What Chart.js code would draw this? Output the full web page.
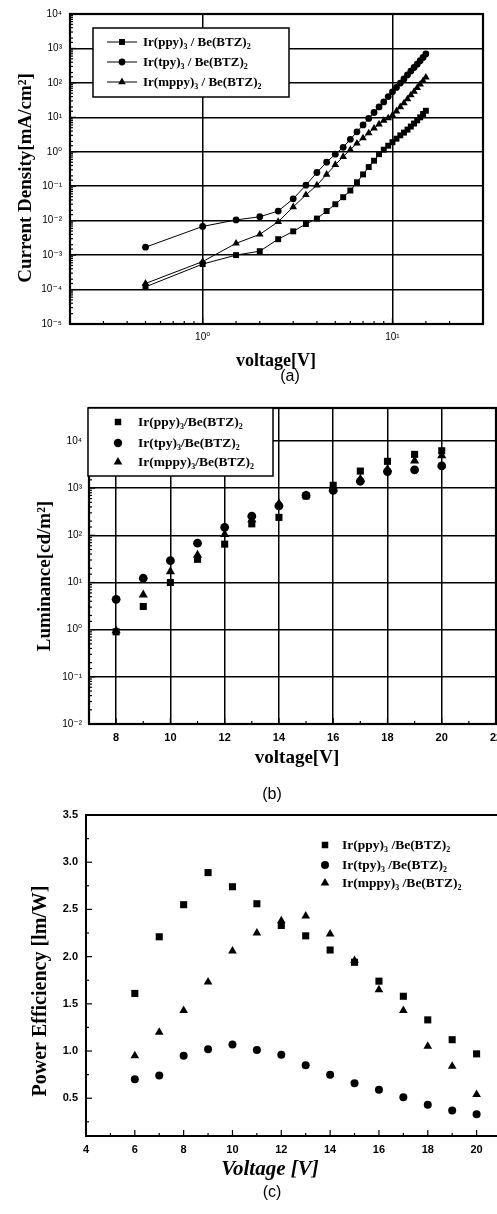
<!DOCTYPE html>
<html>
<head>
<meta charset="utf-8">
<script src="https://cdn.jsdelivr.net/npm/chart.js@4.4.1/dist/chart.umd.min.js"></script>
<style>
  html, body { margin: 0; padding: 0; background: #fff; }
  body { width: 497px; height: 1214px; overflow: hidden; position: relative; }
  canvas { position: absolute; left: 0; }
  #ca { top: 0; }
  #cb { top: 390px; }
  #cc { top: 800px; }
</style>
</head>
<body>
<canvas id="ca" width="510" height="390"></canvas>
<canvas id="cb" width="510" height="420"></canvas>
<canvas id="cc" width="510" height="414"></canvas>
<script>
// ---- (a) current density vs voltage ----
const voltageA = [0.5, 1, 1.5, 2, 2.5, 3, 3.5, 4, 4.5, 5, 5.5, 6, 6.5, 7, 7.5, 8, 8.5, 9, 9.5, 10, 10.5, 11, 11.5, 12, 12.5, 13, 13.5, 14, 14.5, 15]
const jPpyA = [1.2e-4, 5.5e-4, 1.0e-3, 1.3e-3, 2.9e-3, 4.9e-3, 8e-3, 0.0115, 0.019, 0.03, 0.048, 0.075, 0.13, 0.22, 0.36, 0.55, 0.85, 1.15, 1.5, 1.9, 2.4, 3.0, 3.6, 4.4, 5.4, 6.6, 8.2, 10, 12.5, 15.5]
const jTpyA = [1.7e-3, 6.8e-3, 1.05e-2, 1.3e-2, 1.9e-2, 4.3e-2, 0.107, 0.25, 0.5, 0.85, 1.35, 2.3, 3.8, 6.0, 9.3, 13.8, 20, 28, 40, 55, 74, 99, 130, 170, 220, 280, 350, 440, 550, 690]
const jMppyA = [1.5e-4, 6.5e-4, 2.2e-3, 4e-3, 9.3e-3, 0.025, 0.056, 0.107, 0.22, 0.42, 0.72, 1.15, 1.75, 2.5, 3.5, 4.8, 6.3, 8, 9.5, 11.5, 15, 20, 26, 34, 44, 56, 72, 91, 115, 145]
const seriesNamesA = ["Ir(ppy)₃ / Be(BTZ)₂", "Ir(tpy)₃ / Be(BTZ)₂", "Ir(mppy)₃ / Be(BTZ)₂"]
const xDecadesA = [0, 1]
const yDecadesA = [-5, -4, -3, -2, -1, 0, 1, 2, 3, 4]

// ---- (b) luminance vs voltage ----
const voltageB = [8, 9, 10, 11, 12, 13, 14, 15, 16, 17, 18, 19, 20]
const lumPpyB = [0.9, 3.1, 10, 31, 65, 175, 240, 680, 1150, 2300, 3700, 5200, 6200]
const lumTpyB = [4.4, 12.3, 29, 68, 148, 255, 420, 700, 900, 1400, 2250, 2450, 2950]
const lumMppyB = [0.95, 5.5, 17, 38, 105, 215, 470, 700, 950, 1550, 2500, 3800, 4900]
const seriesNamesB = ["Ir(ppy)₃/Be(BTZ)₂", "Ir(tpy)₃/Be(BTZ)₂", "Ir(mppy)₃/Be(BTZ)₂"]
const xTicksB = [8, 10, 12, 14, 16, 18, 20, 22]
const yDecadesB = [-2, -1, 0, 1, 2, 3, 4]

// ---- (c) power efficiency vs voltage ----
const voltageC = [6, 7, 8, 9, 10, 11, 12, 13, 14, 15, 16, 17, 18, 19, 20]
const pePpyC = [1.61, 2.21, 2.55, 2.89, 2.74, 2.56, 2.33, 2.22, 2.07, 1.94, 1.74, 1.58, 1.33, 1.12, 0.97]
const peTpyC = [0.70, 0.74, 0.95, 1.02, 1.07, 1.01, 0.96, 0.85, 0.75, 0.66, 0.59, 0.51, 0.43, 0.37, 0.33]
const peMppyC = [0.95, 1.20, 1.43, 1.73, 2.06, 2.25, 2.38, 2.43, 2.24, 1.96, 1.65, 1.43, 1.05, 0.84, 0.54]
const seriesNamesC = ["Ir(ppy)₃ /Be(BTZ)₂", "Ir(tpy)₃ /Be(BTZ)₂", "Ir(mppy)₃ /Be(BTZ)₂"]
const xTicksC = [4, 6, 8, 10, 12, 14, 16, 18, 20]
const yTicksC = [0.5, 1.0, 1.5, 2.0, 2.5, 3.0, 3.5]

const markers = ["rect", "circle", "triangle"]
const serif = "'Liberation Serif', 'DejaVu Serif', serif"
const sans = "'Liberation Sans', 'DejaVu Sans', sans-serif"
const subDigits = "₀₁₂₃₄₅₆₇₈₉"
const supChars = { "-": "⁻", 0: "⁰", 1: "¹", 2: "²", 3: "³", 4: "⁴", 5: "⁵", 6: "⁶", 7: "⁷", 8: "⁸", 9: "⁹" }

const sup = (n) => String(n).split("").map((c) => supChars[c]).join("")

// label only the decades listed
const decadeLabel = (decades) => (v) => {
  const e = Math.log10(v)
  const r = Math.round(e)
  return Math.abs(e - r) < 1e-6 && decades.includes(r) ? "10" + sup(r) : ""
}
const listLabel = (list, digits) => (v) => {
  const n = Number(Number(v).toFixed(2))
  return list.includes(n) ? n.toFixed(digits) : ""
}
const gridOnLabel = (c) => (c.tick && c.tick.label ? "#000" : "rgba(0,0,0,0)")

// filled marker, same geometry as chart.js point styles
function marker(ctx, style, r, x, y) {
  ctx.beginPath()
  if (style === "rect") {
    const s = Math.SQRT1_2 * r
    ctx.rect(x - s, y - s, 2 * s, 2 * s)
  } else if (style === "triangle") {
    for (let k = 0; k < 3; k++) {
      const a = (k * 2 * Math.PI) / 3
      const px = x + Math.sin(a) * r
      const py = y - Math.cos(a) * r
      k === 0 ? ctx.moveTo(px, py) : ctx.lineTo(px, py)
    }
    ctx.closePath()
  } else {
    ctx.arc(x, y, r, 0, 2 * Math.PI)
  }
  ctx.fill()
}

// text with unicode subscript digits drawn as small lowered digits
function drawRich(ctx, text, x, y, size) {
  let cx = x
  text.match(/[₀-₉]+|[^₀-₉]+/g).forEach((p) => {
    const sub = subDigits.includes(p[0])
    const s = sub ? p.split("").map((c) => subDigits.indexOf(c)).join("") : p
    ctx.font = `bold ${sub ? Math.round(size * 0.62) : size}px ${serif}`
    ctx.fillText(s, cx, sub ? y + size * 0.22 : y)
    cx += ctx.measureText(s).width
  })
}

// frame, inward ticks, legend and captions
const makeDeco = (cfg) => ({
  id: "deco",
  afterDraw(chart) {
    const { ctx, chartArea: a } = chart
    ctx.save()
    ctx.strokeStyle = "#000"
    ctx.fillStyle = "#000"

    ctx.lineWidth = 1.2
    const xs = chart.scales.x
    xs.ticks.forEach((t) => {
      const px = xs.getPixelForValue(t.value)
      if (px < a.left + 1 || px > a.right - 1) return
      const len = t.label ? cfg.majorLen : cfg.minorLen
      ctx.beginPath()
      ctx.moveTo(px, a.bottom)
      ctx.lineTo(px, a.bottom - len)
      ctx.stroke()
    })
    const ys = chart.scales.y
    ys.ticks.forEach((t) => {
      const py = ys.getPixelForValue(t.value)
      if (py < a.top + 1 || py > a.bottom - 1) return
      const len = t.label ? cfg.majorLen : cfg.minorLen
      ctx.beginPath()
      ctx.moveTo(a.left, py)
      ctx.lineTo(a.left + len, py)
      ctx.stroke()
    })

    ctx.lineWidth = cfg.frameWidth
    ctx.strokeRect(a.left, a.top, a.right - a.left, a.bottom - a.top)

    const lg = cfg.legend
    if (lg.box) {
      const [x0, y0, x1, y1] = lg.box
      ctx.fillStyle = "#fff"
      ctx.fillRect(x0, y0, x1 - x0, y1 - y0)
      ctx.lineWidth = 1.5
      ctx.strokeRect(x0, y0, x1 - x0, y1 - y0)
      ctx.fillStyle = "#000"
    }
    chart.data.datasets.forEach((ds, i) => {
      const y = lg.rows[i]
      if (lg.line) {
        ctx.lineWidth = 1
        ctx.beginPath()
        ctx.moveTo(lg.line[0], y)
        ctx.lineTo(lg.line[1], y)
        ctx.stroke()
      }
      marker(ctx, ds.pointStyle, lg.radius[i], lg.markerX, y)
      ctx.textAlign = "left"
      ctx.textBaseline = "alphabetic"
      drawRich(ctx, ds.label, lg.textX, y + lg.size * 0.33, lg.size)
    })

    cfg.titles.forEach((t) => {
      ctx.save()
      ctx.translate(t.x, t.y)
      if (t.rot) ctx.rotate(-Math.PI / 2)
      ctx.font = t.font
      ctx.textAlign = "center"
      ctx.textBaseline = "middle"
      ctx.fillText(t.text, 0, 0)
      ctx.restore()
    })
    ctx.restore()
  },
})

const mkSet = (xs, ys, i, names, radius, showLine) => ({
  label: names[i],
  data: xs.map((v, k) => ({ x: v, y: ys[k] })),
  showLine: showLine,
  borderColor: "#000",
  backgroundColor: "#000",
  borderWidth: 1,
  tension: 0,
  pointStyle: markers[i],
  pointRadius: radius[i],
  pointBorderWidth: 0,
  pointBackgroundColor: "#000",
})

const baseOptions = (padTop, padRight) => ({
  responsive: false,
  animation: false,
  devicePixelRatio: 1,
  layout: { padding: { top: padTop, right: padRight, left: 0, bottom: 0 } },
  plugins: { legend: { display: false }, tooltip: { enabled: false } },
})

// (a)
const radiusA = [4.2, 3.4, 4.4]
new Chart(document.getElementById("ca"), {
  type: "line",
  data: {
    datasets: [
      mkSet(voltageA, jPpyA, 0, seriesNamesA, radiusA, true),
      mkSet(voltageA, jTpyA, 1, seriesNamesA, radiusA, true),
      mkSet(voltageA, jMppyA, 2, seriesNamesA, radiusA, true),
    ],
  },
  options: {
    ...baseOptions(7, 27),
    scales: {
      x: {
        type: "logarithmic", min: 0.2, max: 30,
        afterFit: (s) => { s.height = 390 - 324 },
        border: { display: false },
        grid: { color: gridOnLabel, lineWidth: 1.5, drawTicks: false },
        ticks: { autoSkip: false, maxRotation: 0, padding: 7, color: "#000", font: { family: sans, size: 10 }, callback: decadeLabel(xDecadesA) },
      },
      y: {
        type: "logarithmic", min: 1e-5, max: 1e4,
        afterFit: (s) => { s.width = 70 },
        border: { display: false },
        grid: { color: gridOnLabel, lineWidth: 1.5, drawTicks: false },
        ticks: { autoSkip: false, padding: 8, color: "#000", font: { family: sans, size: 10 }, callback: decadeLabel(yDecadesA) },
      },
    },
  },
  plugins: [makeDeco({
    frameWidth: 2.2, majorLen: 6, minorLen: 3,
    legend: { box: [93, 28, 289, 97], rows: [42, 62, 82], line: [107, 137], markerX: 122, radius: [4.2, 3.4, 4.4], textX: 143, size: 13 },
    titles: [
      { text: "Current Density[mA/cm²]", x: 26, y: 178, rot: true, font: `bold 19px ${serif}` },
      { text: "voltage[V]", x: 276, y: 361, font: `bold 18px ${serif}` },
      { text: "(a)", x: 290, y: 377, font: `16px ${sans}` },
    ],
  })],
})

// (b)
const radiusB = [5, 4.4, 5.3]
new Chart(document.getElementById("cb"), {
  type: "scatter",
  data: {
    datasets: [
      mkSet(voltageB, lumPpyB, 0, seriesNamesB, radiusB, false),
      mkSet(voltageB, lumTpyB, 1, seriesNamesB, radiusB, false),
      mkSet(voltageB, lumMppyB, 2, seriesNamesB, radiusB, false),
    ],
  },
  options: {
    ...baseOptions(18, 14),
    scales: {
      x: {
        type: "linear", min: 7, max: 22,
        afterFit: (s) => { s.height = 420 - 334 },
        border: { display: false },
        grid: { color: gridOnLabel, lineWidth: 1.5, drawTicks: false },
        ticks: { stepSize: 1, autoSkip: false, maxRotation: 0, padding: 7, color: "#000", font: { family: sans, size: 11, weight: "bold" }, callback: listLabel(xTicksB, 0) },
      },
      y: {
        type: "logarithmic", min: 0.01, max: 5e4,
        afterFit: (s) => { s.width = 89 },
        border: { display: false },
        grid: { color: gridOnLabel, lineWidth: 1.5, drawTicks: false },
        ticks: { autoSkip: false, padding: 7, color: "#000", font: { family: sans, size: 10 }, callback: decadeLabel(yDecadesB) },
      },
    },
  },
  plugins: [makeDeco({
    frameWidth: 2.2, majorLen: 6, minorLen: 3,
    legend: { box: [88, 18, 273, 86], rows: [32, 53, 72], markerX: 118, radius: [4.6, 4.2, 5], textX: 138, size: 13.5 },
    titles: [
      { text: "Luminance[cd/m²]", x: 45, y: 186, rot: true, font: `bold 19px ${serif}` },
      { text: "voltage[V]", x: 297, y: 368, font: `bold 19px ${serif}` },
      { text: "(b)", x: 272, y: 405, font: `16px ${sans}` },
    ],
  })],
})

// (c)
const radiusC = [5, 4, 5]
new Chart(document.getElementById("cc"), {
  type: "scatter",
  data: {
    datasets: [
      mkSet(voltageC, pePpyC, 0, seriesNamesC, radiusC, false),
      mkSet(voltageC, peTpyC, 1, seriesNamesC, radiusC, false),
      mkSet(voltageC, peMppyC, 2, seriesNamesC, radiusC, false),
    ],
  },
  options: {
    ...baseOptions(15, 9),
    scales: {
      x: {
        type: "linear", min: 4, max: 21,
        afterFit: (s) => { s.height = 414 - 336 },
        border: { display: false },
        grid: { display: false, drawTicks: false },
        ticks: { stepSize: 1, autoSkip: false, maxRotation: 0, padding: 7, color: "#000", font: { family: sans, size: 11, weight: "bold" }, callback: listLabel(xTicksC, 0) },
      },
      y: {
        type: "linear", min: 0.1, max: 3.5,
        afterFit: (s) => { s.width = 86 },
        border: { display: false },
        grid: { display: false, drawTicks: false },
        ticks: { stepSize: 0.25, autoSkip: false, padding: 8, color: "#000", font: { family: sans, size: 11, weight: "bold" }, callback: listLabel(yTicksC, 1) },
      },
    },
  },
  plugins: [makeDeco({
    frameWidth: 2, majorLen: 6, minorLen: 3,
    legend: { rows: [45, 65, 83], markerX: 325, radius: [4.6, 4, 5], textX: 342, size: 13.5 },
    titles: [
      { text: "Power Efficiency [lm/W]", x: 41, y: 191, rot: true, font: `bold 20px ${serif}` },
      { text: "Voltage [V]", x: 270, y: 370, font: `italic bold 21px ${serif}` },
      { text: "(c)", x: 272, y: 393, font: `16px ${sans}` },
    ],
  })],
})
</script>
</body>
</html>
